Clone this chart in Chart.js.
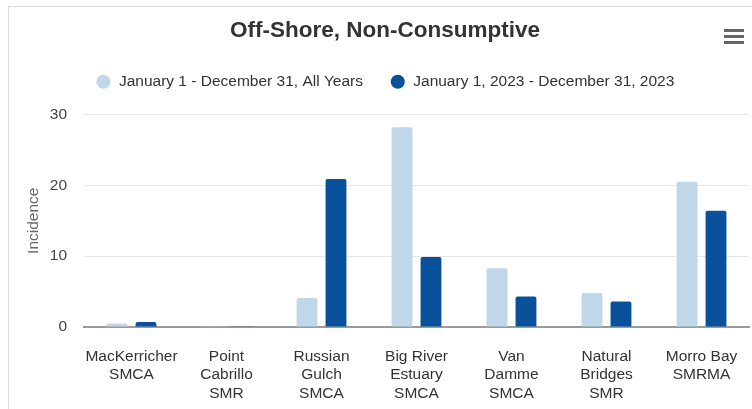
<!DOCTYPE html>
<html>
<head>
<meta charset="utf-8">
<script src="https://cdn.jsdelivr.net/npm/chart.js@4.4.1/dist/chart.umd.min.js"></script>
<style>
    html, body { margin: 0; padding: 0; background: #fff; overflow: hidden; }
    body { width: 752px; height: 409px; position: relative; }
    .frame {
        position: absolute; left: 8px; top: 6px; width: 800px; height: 420px;
        border-left: 1px solid #d9d9d9; border-top: 1px solid #d9d9d9;
    }
    .chart-box { position: absolute; left: 8px; top: 0; width: 754px; height: 409px; }
    .menu { position: absolute; left: 724px; top: 29px; width: 20px; }
    .menu span { display: block; height: 3px; background: #666; margin-bottom: 3px; }
</style>
</head>
<body>
<div class="frame"></div>
<div class="chart-box"><canvas id="incidenceChart"></canvas></div>
<div class="menu"><span></span><span></span><span></span></div>

<script>
// Chart data
const sites = [
    ['MacKerricher', 'SMCA'],
    ['Point', 'Cabrillo', 'SMR'],
    ['Russian', 'Gulch', 'SMCA'],
    ['Big River', 'Estuary', 'SMCA'],
    ['Van', 'Damme', 'SMCA'],
    ['Natural', 'Bridges', 'SMR'],
    ['Morro Bay', 'SMRMA']
];
const allYears = [0.5, 0.1, 4.1, 28.2, 8.3, 4.8, 20.5];
const year2023 = [0.7, 0.1, 20.9, 9.9, 4.3, 3.6, 16.4];
const seriesNames = ['January 1 - December 31, All Years', 'January 1, 2023 - December 31, 2023'];
const yTicks = [0, 10, 20, 30];

Chart.defaults.font.family = '"Liberation Sans", Arial, sans-serif';

// Extra room between the legend and the plot
const legendSpacer = {
    id: 'legendSpacer',
    beforeInit(chart) {
        const origFit = chart.legend.fit;
        chart.legend.fit = function () {
            origFit.call(this);
            this.height += 15;
        };
    }
};

const ctx = document.getElementById('incidenceChart').getContext('2d');
new Chart(ctx, {
    type: 'bar',
    data: {
        labels: sites,
        datasets: [{
            label: seriesNames[0],
            data: allYears,
            backgroundColor: '#bfd7e8',
            borderRadius: { topLeft: 2, topRight: 2 },
            borderSkipped: 'bottom',
            categoryPercentage: 0.61,
            barPercentage: 0.72
        }, {
            label: seriesNames[1],
            data: year2023,
            backgroundColor: '#0a519c',
            borderRadius: { topLeft: 2, topRight: 2 },
            borderSkipped: 'bottom',
            categoryPercentage: 0.61,
            barPercentage: 0.72
        }]
    },
    plugins: [legendSpacer],
    options: {
        responsive: true,
        maintainAspectRatio: false,
        animation: false,
        layout: {
            padding: { left: 13, right: 13, top: 0, bottom: 0 }
        },
        plugins: {
            title: {
                display: true,
                text: 'Off-Shore, Non-Consumptive',
                color: '#333333',
                font: { size: 22.5, weight: 'bold' },
                padding: { top: 17.5, bottom: 2.5 }
            },
            legend: {
                position: 'top',
                labels: {
                    usePointStyle: true,
                    pointStyle: 'circle',
                    boxWidth: 15.5,
                    boxHeight: 10,
                    padding: 27,
                    color: '#333333',
                    font: { size: 15.5 }
                }
            },
            tooltip: { enabled: false }
        },
        scales: {
            y: {
                min: 0,
                max: 30,
                afterFit: function (scale) { scale.width = 63; },
                afterBuildTicks: function (scale) {
                    scale.ticks = yTicks.map(v => ({ value: v }));
                },
                ticks: {
                    color: '#444444',
                    padding: 17,
                    font: { size: 15.5 }
                },
                grid: {
                    color: '#e6e6e6',
                    drawTicks: false
                },
                border: { display: false },
                title: {
                    display: true,
                    text: 'Incidence',
                    color: '#666666',
                    font: { size: 15.5 },
                    padding: { top: 3, bottom: 0 }
                }
            },
            x: {
                afterFit: function (scale) { scale.height = 82; },
                ticks: {
                    color: '#333333',
                    padding: 12,
                    maxRotation: 0,
                    autoSkip: false,
                    font: { size: 15.5 }
                },
                grid: { display: false },
                border: { display: true, color: '#9a9a9a', width: 2 }
            }
        }
    }
});
</script>
</body>
</html>
